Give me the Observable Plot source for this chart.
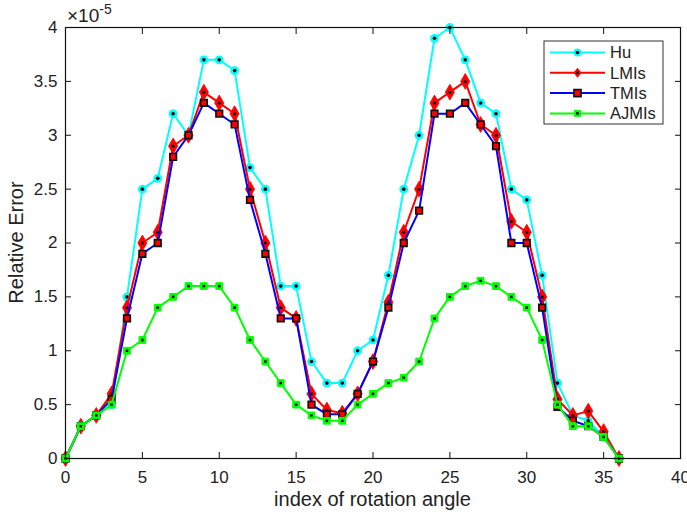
<!DOCTYPE html>
<html><head><meta charset="utf-8">
<script src="https://cdn.jsdelivr.net/npm/d3@7"></script>
<script src="https://cdn.jsdelivr.net/npm/@observablehq/plot@0.6"></script>
<style>
body{margin:0;background:#fff;font-family:"Liberation Sans",Arial,sans-serif}
#chart{position:relative;width:687px;height:515px}
</style>
</head><body><div id="chart"></div>
<script>
const angleIndex = [0,1,2,3,4,5,6,7,8,9,10,11,12,13,14,15,16,17,18,19,20,21,22,23,24,25,26,27,28,29,30,31,32,33,34,35,36];
const hu    = [0,0.3,0.4,0.5,1.5,2.5,2.6,3.2,3.0,3.7,3.7,3.6,2.7,2.5,1.6,1.6,0.9,0.7,0.7,1.0,1.1,1.7,2.5,3.0,3.9,4.0,3.7,3.3,3.2,2.5,2.4,1.7,0.7,0.4,0.35,0.2,0];
const lmis  = [0,0.3,0.4,0.6,1.4,2.0,2.1,2.9,3.0,3.4,3.3,3.2,2.5,2.0,1.4,1.3,0.6,0.45,0.42,0.6,0.9,1.45,2.1,2.5,3.3,3.4,3.5,3.1,3.0,2.2,2.1,1.5,0.55,0.4,0.44,0.25,0];
const tmis  = [0,0.3,0.4,0.55,1.3,1.9,2.0,2.8,3.0,3.3,3.2,3.1,2.4,1.9,1.3,1.3,0.5,0.41,0.41,0.6,0.9,1.4,2.0,2.3,3.2,3.2,3.3,3.1,2.9,2.0,2.0,1.4,0.48,0.35,0.3,0.2,0];
const ajmis = [0,0.3,0.4,0.5,1.0,1.1,1.4,1.5,1.6,1.6,1.6,1.4,1.1,0.9,0.7,0.5,0.4,0.35,0.35,0.5,0.6,0.7,0.75,0.9,1.3,1.5,1.6,1.65,1.6,1.5,1.4,1.1,0.5,0.3,0.3,0.2,0];
const seriesNames = ["Hu","LMIs","TMIs","AJMIs"];
const xTicks = [0,5,10,15,20,25,30,35,40];
const yTicks = [0,0.5,1,1.5,2,2.5,3,3.5,4];
const yTickLabels = ["0","0.5","1","1.5","2","2.5","3","3.5","4"];

const toRows = vals => angleIndex.map((x,i)=>({x, y: vals[i]}));
const rows = {Hu: toRows(hu), LMIs: toRows(lmis), TMIs: toRows(tmis), AJMIs: toRows(ajmis)};

const W = 687, H = 515, ML = 65, MR = 7, MT = 27, MB = 57;
const tickFont = 17;

const marks = [];
// Hu
marks.push(Plot.line(rows.Hu, {x:"x", y:"y", stroke:"#00ffff", strokeWidth:2}));
marks.push(Plot.dot(rows.Hu, {x:"x", y:"y", symbol:"circle", r:3.8, fill:"#00ffff", stroke:"#00ffff", strokeWidth:1.2}));
marks.push(Plot.dot(rows.Hu, {x:"x", y:"y", symbol:"circle", r:1.8, fill:"black"}));
// LMIs
marks.push(Plot.line(rows.LMIs, {x:"x", y:"y", stroke:"#ff0000", strokeWidth:2}));
marks.push(Plot.dot(rows.LMIs, {x:"x", y:"y", symbol:"diamond", r:4.8, fill:"#ff0000", stroke:"#ff0000", strokeWidth:0.8}));
marks.push(Plot.dot(rows.LMIs, {x:"x", y:"y", symbol:"circle", r:1.5, fill:"black"}));
// TMIs
marks.push(Plot.line(rows.TMIs, {x:"x", y:"y", stroke:"#0000ff", strokeWidth:2}));
marks.push(Plot.dot(rows.TMIs, {x:"x", y:"y", symbol:"square", r:3.7, fill:"#ff0000", stroke:"#111", strokeWidth:1.7}));
// AJMIs
marks.push(Plot.line(rows.AJMIs, {x:"x", y:"y", stroke:"#00ff00", strokeWidth:2}));
marks.push(Plot.dot(rows.AJMIs, {x:"x", y:"y", symbol:"square", r:3.8, fill:"#00ff00", stroke:"#00ff00", strokeWidth:1}));
marks.push(Plot.dot(rows.AJMIs, {x:"x", y:"y", symbol:"square", r:1.4, fill:"black"}));

const plot = Plot.plot({
  width: W, height: H,
  marginLeft: ML, marginRight: MR, marginTop: MT, marginBottom: MB,
  style: {fontFamily: '"Liberation Sans", Arial, sans-serif', background: "white", overflow: "visible"},
  x: {domain: [0,40]},
  y: {domain: [0,4]},
  marks: [
    ...marks,
    Plot.frame({stroke: "#111", strokeWidth: 1.2}),
    Plot.axisX(xTicks, {anchor:"bottom", tickSize:-6, tickPadding:18, fontSize:tickFont, fill:"#222", stroke:"#111", label:null, tickFormat: d => String(d)}),
    Plot.axisX(xTicks, {anchor:"top", tickSize:-6, stroke:"#111", label:null, tickFormat: () => ""}),
    Plot.axisY(yTicks, {anchor:"left", tickSize:-6, tickPadding:14, fontSize:tickFont, fill:"#222", stroke:"#111", label:null, tickFormat: d => yTickLabels[yTicks.indexOf(d)]}),
    Plot.axisY(yTicks, {anchor:"right", tickSize:-6, stroke:"#111", label:null, tickFormat: () => ""})
  ]
});
document.getElementById("chart").appendChild(plot);

const svg = d3.select(plot);
const ff = '"Liberation Sans", Arial, sans-serif';
// exponent label
const expo = svg.append("text").attr("x", 67).attr("y", 22).attr("text-anchor","start").attr("font-family", ff).attr("font-size", 19).attr("fill", "#222");
expo.append("tspan").text("\u00d710");
expo.append("tspan").attr("dy", -8).attr("font-size", 14).text("-5");
// axis titles
svg.append("text").attr("x", ML + (W-ML-MR)/2).attr("y", 506).attr("text-anchor","middle")
  .attr("font-family", ff).attr("font-size", 20).attr("fill","#222").text("index of rotation angle");
svg.append("text").attr("transform", `translate(23,${MT + (H-MT-MB)/2}) rotate(-90)`).attr("text-anchor","middle")
  .attr("font-family", ff).attr("font-size", 20).attr("fill","#222").text("Relative Error");

// legend
const lg = svg.append("g");
lg.append("rect").attr("x", 544).attr("y", 41).attr("width", 119).attr("height", 83).attr("fill","white").attr("stroke","#333").attr("stroke-width",1);
const legendColors = ["#00ffff","#ff0000","#0000ff","#00ff00"];
seriesNames.forEach((name,i) => {
  const y = 52.5 + i*20.3;
  lg.append("line").attr("x1",550).attr("x2",605).attr("y1",y).attr("y2",y).attr("stroke",legendColors[i]).attr("stroke-width",2);
  const cx = 577.5;
  if (i===0) {
    lg.append("circle").attr("cx",cx).attr("cy",y).attr("r",4).attr("fill","#00ffff");
    lg.append("circle").attr("cx",cx).attr("cy",y).attr("r",1.8).attr("fill","black");
  } else if (i===1) {
    lg.append("path").attr("d",`M${cx},${y-5}L${cx+4},${y}L${cx},${y+5}L${cx-4},${y}Z`).attr("fill","#ff0000");
    lg.append("circle").attr("cx",cx).attr("cy",y).attr("r",1.5).attr("fill","black");
  } else if (i===2) {
    lg.append("rect").attr("x",cx-3.5).attr("y",y-3.5).attr("width",7).attr("height",7).attr("fill","#ff0000").attr("stroke","#111").attr("stroke-width",1.7);
  } else {
    lg.append("rect").attr("x",cx-3.5).attr("y",y-3.5).attr("width",7).attr("height",7).attr("fill","#00ff00");
    lg.append("rect").attr("x",cx-1.3).attr("y",y-1.3).attr("width",2.6).attr("height",2.6).attr("fill","black");
  }
  lg.append("text").attr("x",610).attr("y",y).attr("dy","0.36em").attr("text-anchor","start").attr("font-family",ff).attr("font-size",16.5).attr("fill","#222").text(name);
});
</script>
</body></html>
